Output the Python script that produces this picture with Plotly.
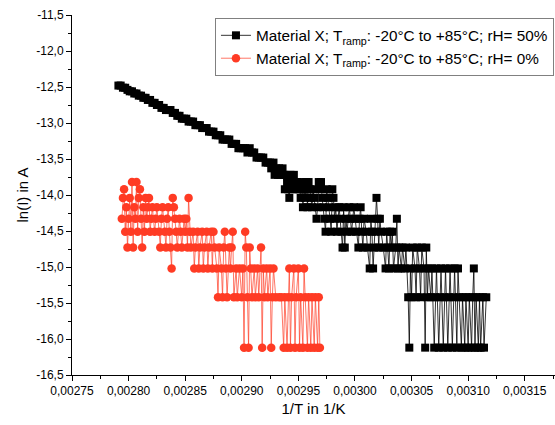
import numpy as np
import plotly.graph_objects as go

# x values in units of 1e-6 1/K, y values ln(I)
black_x = [2791, 2793, 2795, 2797, 2799, 2801, 2803, 2805, 2807, 2809, 2811, 2813, 2815, 2817, 2819,
           2821, 2823, 2825, 2827, 2829, 2831, 2833, 2835, 2837, 2839, 2841, 2843, 2845, 2847, 2849,
           2851, 2853, 2855, 2857, 2859, 2861, 2863, 2865, 2867, 2869, 2871, 2873, 2875, 2877, 2879,
           2881, 2883, 2885, 2887, 2889, 2891, 2893, 2895, 2897, 2899, 2901, 2903, 2905, 2907, 2909,
           2911, 2913, 2915, 2917, 2919, 2921, 2923,
           2925, 2926, 2928, 2929, 2930, 2932, 2933, 2934, 2936, 2937, 2938, 2939, 2940, 2941, 2942,
           2943, 2944, 2945, 2946, 2947, 2948, 2949, 2951, 2952, 2953, 2954, 2955, 2956, 2957, 2958,
           2959, 2960, 2961, 2962, 2963, 2964, 2966, 2967, 2968, 2969, 2970, 2971, 2972, 2973, 2974,
           2975, 2976, 2977, 2978, 2979, 2980, 2981, 2982, 2983, 2984, 2986, 2987, 2988, 2989, 2990,
           2991, 2992, 2993, 2995, 2996, 2997, 2999, 3000, 3001, 3003, 3004, 3005, 3006, 3007, 3008,
           3010, 3011, 3013, 3014, 3015, 3016, 3017, 3018, 3019, 3020, 3021, 3022, 3023, 3025, 3027,
           3028, 3029, 3030, 3031, 3032, 3033, 3034, 3036, 3037, 3038, 3039, 3041, 3042, 3044, 3045,
           3047, 3048, 3049, 3050, 3051, 3053, 3054, 3055, 3057, 3058, 3059, 3061, 3062, 3063, 3064,
           3065, 3067, 3068, 3070, 3071, 3072, 3074, 3075, 3076, 3078, 3079, 3080, 3082, 3083, 3084,
           3086, 3087, 3088, 3090, 3091, 3092, 3094, 3095, 3097, 3098, 3100, 3101, 3103, 3104, 3105,
           3106, 3107, 3109, 3110, 3111, 3113, 3114, 3116]
black_y = [-12.48, -12.48, -12.51, -12.51, -12.54, -12.56, -12.56, -12.59, -12.59, -12.62, -12.62, -12.65, -12.65, -12.68, -12.68,
           -12.72, -12.72, -12.75, -12.75, -12.79, -12.79, -12.82, -12.82, -12.82, -12.86, -12.86, -12.90, -12.90, -12.94, -12.94,
           -12.94, -12.98, -12.98, -12.98, -13.03, -13.03, -13.03, -13.07, -13.07, -13.07, -13.12, -13.12, -13.12, -13.17, -13.17,
           -13.17, -13.23, -13.23, -13.23, -13.23, -13.29, -13.29, -13.29, -13.35, -13.35, -13.35, -13.35, -13.41, -13.35, -13.41,
           -13.41, -13.48, -13.48, -13.48, -13.48, -13.55, -13.55,
           -13.55, -13.63, -13.55, -13.72, -13.63, -13.72, -13.63, -13.72, -13.63, -13.72, -13.92, -13.72, -13.82, -13.92, -14.04,
           -13.72, -13.82, -13.92, -13.72, -13.82, -13.92, -13.82, -13.92, -14.04, -13.82, -14.17, -13.92, -14.04, -13.82, -14.17,
           -13.82, -13.92, -14.04, -14.17, -13.92, -14.04, -14.33, -14.17, -13.82, -13.92, -13.82, -14.04, -14.17, -14.33, -14.51,
           -13.92, -14.04, -14.17, -14.33, -14.51, -13.92, -14.04, -14.33, -14.17, -14.51, -14.17, -14.33, -14.51, -14.73, -14.17,
           -14.73, -14.33, -14.51, -14.17, -14.33, -14.51, -14.17, -14.33, -14.51, -14.73, -14.33, -14.17, -14.51, -14.73, -14.33,
           -14.51, -14.73, -15.02, -14.33, -14.51, -15.02, -14.73, -14.51, -14.04, -14.33, -14.73, -14.33, -14.51, -14.73, -15.02,
           -14.51, -14.73, -15.02, -14.51, -14.73, -14.51, -15.02, -14.73, -14.33, -15.02, -14.73, -15.02, -14.73, -15.02, -14.73,
           -15.42, -16.12, -15.02, -15.42, -14.73, -15.02, -15.42, -14.73, -15.02, -15.42, -14.73, -15.02, -16.12, -14.73, -15.42,
           -15.02, -15.42, -15.02, -16.12, -15.42, -15.02, -16.12, -15.42, -15.02, -16.12, -15.42, -15.02, -16.12, -15.42, -15.02,
           -16.12, -15.42, -15.02, -16.12, -15.02, -15.42, -16.12, -15.42, -16.12, -15.42, -16.12, -15.42, -16.12, -15.42, -15.02,
           -16.12, -15.42, -16.12, -15.42, -16.12, -15.42, -16.12, -15.42]

red_x = [2794, 2795, 2796, 2797, 2798, 2799, 2800, 2801, 2802, 2803, 2804, 2805, 2806, 2807, 2808,
         2809, 2810, 2811, 2812, 2813, 2814, 2815, 2816, 2817, 2818, 2819, 2820, 2821, 2823, 2824,
         2825, 2827, 2828, 2829, 2830, 2832, 2833, 2834, 2835, 2836, 2837, 2838, 2839, 2840, 2841,
         2842, 2843, 2845, 2846, 2847, 2849, 2850, 2851, 2852, 2853, 2854, 2855, 2857, 2858, 2859,
         2861, 2862, 2863, 2865, 2866, 2867, 2869, 2870, 2871, 2873, 2874, 2875, 2876, 2878, 2879,
         2880, 2882, 2883, 2884, 2885, 2886, 2887, 2889, 2890, 2891, 2892, 2893, 2895, 2896, 2898,
         2900, 2901, 2902, 2903, 2904, 2905, 2906, 2907, 2908, 2909, 2911, 2912, 2914, 2915, 2917,
         2918, 2919, 2920, 2922, 2923, 2925, 2926, 2927, 2928, 2930, 2933, 2935, 2937, 2938, 2940,
         2941, 2942, 2943, 2944, 2946, 2947, 2948, 2950, 2951, 2952, 2954, 2955, 2956, 2958, 2959,
         2961, 2962, 2964, 2965, 2967, 2968, 2969]
red_y = [-14.33, -14.04, -13.92, -14.51, -14.17, -14.73, -14.33, -14.04, -14.51, -13.82, -14.73, -14.17, -14.33, -13.82, -14.51,
         -14.04, -13.92, -14.33, -14.73, -14.17, -14.51, -14.04, -14.33, -14.17, -14.04, -14.51, -14.33, -14.17, -14.51, -14.33,
         -14.17, -14.51, -14.73, -14.33, -14.17, -14.51, -14.73, -14.33, -14.17, -14.51, -14.73, -15.02, -14.04, -14.17, -14.33,
         -14.51, -14.73, -14.33, -14.51, -14.73, -14.33, -14.51, -14.33, -14.73, -14.04, -14.51, -14.73, -14.51, -15.02, -14.73,
         -14.51, -15.02, -14.73, -14.51, -15.02, -14.73, -14.51, -15.02, -14.73, -14.51, -15.02, -14.51, -14.73, -15.02, -15.42,
         -14.73, -15.02, -15.42, -14.73, -14.51, -15.02, -15.42, -14.73, -15.02, -14.73, -14.51, -15.42, -15.02, -15.42, -15.02,
         -15.42, -15.02, -16.12, -14.51, -14.73, -15.42, -16.12, -14.73, -15.02, -15.42, -15.02, -15.42, -15.02, -15.42, -14.73,
         -16.12, -15.02, -15.42, -15.02, -15.42, -15.02, -16.12, -15.42, -15.02, -15.42, -15.42, -15.42, -16.12, -15.42, -16.12,
         -15.42, -15.02, -16.12, -15.42, -15.02, -16.12, -15.42, -15.02, -16.12, -15.42, -16.12, -15.02, -15.42, -16.12, -15.42,
         -16.12, -15.42, -16.12, -15.42, -16.12, -15.42, -16.12]

y_tickvals = [-16.5, -16.0, -15.5, -15.0, -14.5, -14.0, -13.5, -13.0, -12.5, -12.0, -11.5]
y_ticktext = ["-16,5", "-16,0", "-15,5", "-15,0", "-14,5", "-14,0", "-13,5", "-13,0", "-12,5", "-12,0", "-11,5"]

black_name = "Material X; T<sub>ramp</sub>: -20°C to +85°C; rH= 50%"
red_name = "Material X; T<sub>ramp</sub>: -20°C to +85°C; rH= 0%"

FONT = "Liberation Sans, Arial, sans-serif"

fig = go.Figure()
fig.add_trace(go.Scatter(
    x=np.array(black_x) * 1e-6, y=black_y, mode="lines+markers", name=black_name,
    line=dict(color="#000000", width=0.8),
    marker=dict(symbol="square", size=8, color="#000000", line=dict(width=0)),
))
fig.add_trace(go.Scatter(
    x=np.array(red_x) * 1e-6, y=red_y, mode="lines+markers", name=red_name,
    line=dict(color="#FF3B24", width=0.7),
    marker=dict(symbol="circle", size=8.5, color="#FF3B24", line=dict(width=0)),
))

axis_common = dict(
    showline=True, linecolor="black", linewidth=1, mirror=False,
    ticks="outside", ticklen=5, tickwidth=1, tickcolor="black",
    showgrid=False, zeroline=False,
    tickfont=dict(family=FONT, size=12, color="black"),
)

fig.update_layout(
    width=555, height=425,
    margin=dict(l=72, r=0, t=15, b=50),
    paper_bgcolor="white", plot_bgcolor="white",
    separators=", ",
    font=dict(family=FONT, color="black"),
    xaxis=dict(range=[0.00275, 0.0031767], tick0=0.00275, dtick=0.00005, tickformat=".5f",
               minor=dict(dtick=0.000025, ticklen=3, tickcolor="black", ticks="outside"),
               title=dict(text="1/T in 1/K", font=dict(family=FONT, size=15), standoff=6),
               **axis_common),
    yaxis=dict(range=[-16.5, -11.5], tickmode="array", tickvals=y_tickvals, ticktext=y_ticktext,
               minor=dict(dtick=0.25, ticklen=3, tickcolor="black", ticks="outside"),
               title=dict(text="ln(I) in A", font=dict(family=FONT, size=15), standoff=3),
               **axis_common),
    legend=dict(x=0.296, y=0.992, xanchor="left", yanchor="top",
                bordercolor="#808080", borderwidth=1, bgcolor="white",
                font=dict(family=FONT, size=15.3, color="black"), tracegroupgap=0),
    showlegend=True,
)

fig.write_html("out.html")
